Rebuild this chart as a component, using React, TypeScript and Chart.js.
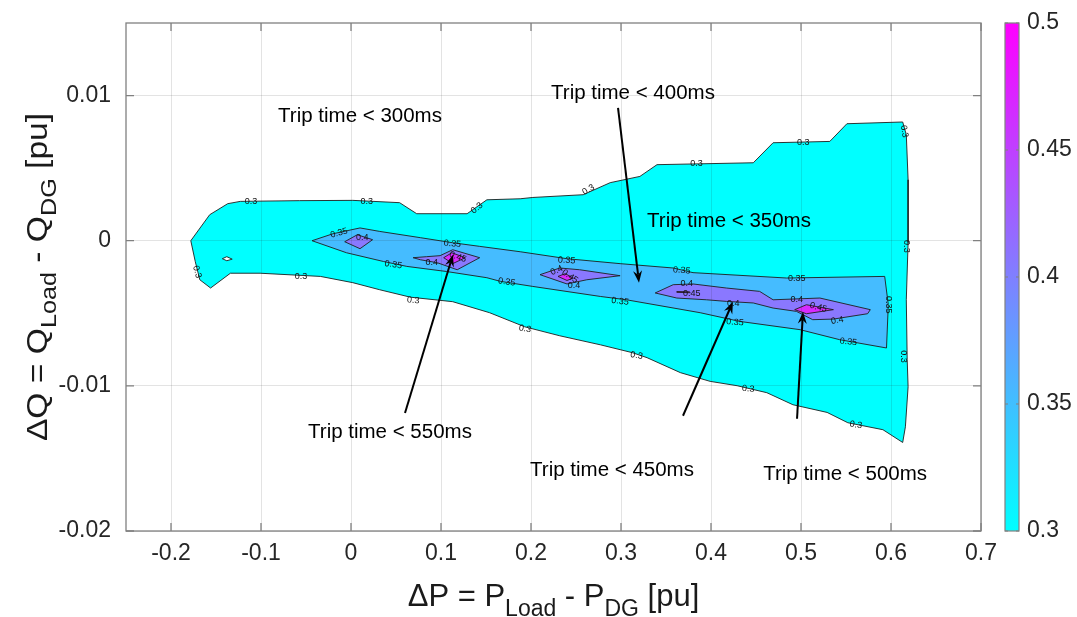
import React, { useEffect, useRef } from "react";
import { Chart, registerables } from "chart.js";

Chart.register(...registerables);

const FONT = '"Liberation Sans", Arial, Helvetica, sans-serif';

// Axis ticks
const xTicks = [-0.2, -0.1, 0, 0.1, 0.2, 0.3, 0.4, 0.5, 0.6, 0.7];
const yTicks = [-0.02, -0.01, 0, 0.01];
const levelTicks = [0.3, 0.35, 0.4, 0.45, 0.5];

// Filled contour outlines, vertices as [ΔP, ΔQ] in pu
const level30 = [
  [-0.178, 0.0], [-0.157, 0.00179], [-0.137, 0.00255], [-0.123, 0.00271],
  [-0.057, 0.00276], [0.002, 0.00278], [0.054, 0.00262], [0.073, 0.00186],
  [0.129, 0.00186], [0.151, 0.00282], [0.188, 0.00289], [0.202, 0.00298],
  [0.258, 0.00317], [0.288, 0.004], [0.321, 0.00443], [0.34, 0.00524],
  [0.447, 0.00537], [0.469, 0.00675], [0.532, 0.00684], [0.551, 0.00806],
  [0.613, 0.00818], [0.617, 0.0073], [0.619, 0.0042], [0.619, -0.00014],
  [0.617, -0.00407], [0.618, -0.0082], [0.619, -0.01006], [0.616, -0.01282],
  [0.613, -0.0139], [0.591, -0.01302], [0.552, -0.01254], [0.529, -0.01183],
  [0.491, -0.0113], [0.462, -0.01047], [0.429, -0.00999], [0.399, -0.00969],
  [0.366, -0.00909], [0.329, -0.00806], [0.313, -0.00772], [0.277, -0.00717],
  [0.232, -0.00655], [0.193, -0.00593], [0.154, -0.00496], [0.113, -0.0042],
  [0.066, -0.00389], [0.032, -0.00338], [0.002, -0.00289], [-0.034, -0.00246],
  [-0.101, -0.00224], [-0.134, -0.00224], [-0.156, -0.00326], [-0.168, -0.00269],
  [-0.173, -0.00145],
];

const level30Hole = [
  [-0.143, -0.00124], [-0.138, -0.0011], [-0.132, -0.00127], [-0.138, -0.00138],
];

const level35 = [
  [-0.0433, 0.0], [-0.02, 0.00048], [0.01, 0.00088], [0.032, 0.00064],
  [0.077, 0.00021], [0.113, -0.00014], [0.143, -0.00039], [0.188, -0.00076],
  [0.24, -0.00124], [0.299, -0.00158], [0.358, -0.00188], [0.38, -0.0022],
  [0.484, -0.00257], [0.593, -0.00246], [0.597, -0.00441], [0.595, -0.00739],
  [0.543, -0.00682], [0.499, -0.00613], [0.432, -0.00556], [0.388, -0.00496],
  [0.306, -0.00407], [0.277, -0.00384], [0.202, -0.00315], [0.166, -0.0028],
  [0.151, -0.00255], [0.106, -0.00212], [0.062, -0.00177], [0.036, -0.00143],
  [-0.005, -0.00083],
];

const level40a = [[-0.007, -0.00007], [0.007, 0.00041], [0.024, 0.00007], [0.01, -0.00055]];
const level40b = [
  [0.069, -0.00117], [0.084, -0.0011], [0.099, -0.00103], [0.113, -0.00062],
  [0.143, -0.00117], [0.118, -0.002], [0.096, -0.00152], [0.077, -0.00131],
];
const level40c = [
  [0.21, -0.00234], [0.232, -0.00188], [0.254, -0.002], [0.299, -0.00241],
  [0.262, -0.00269], [0.24, -0.00298],
];
const level40d = [
  [0.338, -0.0036], [0.358, -0.00303], [0.38, -0.00298], [0.417, -0.00326],
  [0.454, -0.00349], [0.469, -0.00407], [0.521, -0.00395], [0.577, -0.00475],
  [0.574, -0.00503], [0.536, -0.0054], [0.513, -0.00544], [0.495, -0.00487],
  [0.469, -0.00464], [0.447, -0.00429], [0.417, -0.00418], [0.395, -0.00407],
  [0.362, -0.00395],
];

const level45b = [[0.103, -0.00117], [0.112, -0.00083], [0.127, -0.00117], [0.113, -0.00158]];
const level45c = [[0.23, -0.00246], [0.238, -0.00227], [0.247, -0.00257], [0.24, -0.00274]];
const level45d = [[0.362, -0.0035], [0.376, -0.00352], [0.377, -0.00358], [0.362, -0.00356]];
const level45e = [[0.493, -0.00475], [0.506, -0.00441], [0.536, -0.00475], [0.506, -0.00503]];

// Inline contour labels: [ΔP, ΔQ, text, angle in degrees]
const contourLabels: [number, number, string, number][] = [
  [-0.111, 0.00267, "0.3", 0], [0.0174, 0.00267, "0.3", 0], [0.14, 0.00225, "0.3", -40],
  [-0.171, -0.00214, "0.3", 75], [-0.0556, -0.00246, "0.3", 0], [0.069, -0.00411, "0.3", 5],
  [0.2637, 0.00351, "0.3", -30], [0.384, 0.00531, "0.3", 0], [0.5026, 0.00677, "0.3", 0],
  [0.6148, 0.00753, "0.3", 80], [0.6174, -0.00039, "0.3", 90], [0.6144, -0.00797, "0.3", 90],
  [0.1933, -0.00607, "0.3", 10], [0.3174, -0.00791, "0.3", 8], [0.4414, -0.01021, "0.3", 5],
  [0.561, -0.01269, "0.3", 10],
  [-0.0133, 0.00053, "0.35", -15], [0.1126, -0.00021, "0.35", 5], [0.047, -0.00165, "0.35", 8],
  [0.173, -0.00285, "0.35", 8], [0.2397, -0.00136, "0.35", 3], [0.3674, -0.00205, "0.35", 5],
  [0.4952, -0.00262, "0.35", 0], [0.597, -0.00441, "0.35", 90], [0.2989, -0.00418, "0.35", 8],
  [0.4267, -0.00562, "0.35", 5], [0.5526, -0.00697, "0.35", 5],
  [0.0126, 0.00025, "0.4", 0], [0.0897, -0.0015, "0.4", 0], [0.2286, -0.00205, "0.4", -25],
  [0.2478, -0.0031, "0.4", 0], [0.373, -0.00296, "0.4", 0], [0.4248, -0.00436, "0.4", 0],
  [0.4952, -0.00402, "0.4", 0], [0.5403, -0.00549, "0.4", -10],
  [0.1186, -0.00112, "0.45", 20], [0.2433, -0.00246, "0.45", 35], [0.3786, -0.00365, "0.45", 0],
  [0.5192, -0.0046, "0.45", 15],
];

// Trip-time annotations
const noteTexts = [
  "Trip time < 300ms", "Trip time < 400ms", "Trip time < 350ms",
  "Trip time < 550ms", "Trip time < 450ms", "Trip time < 500ms",
];
const noteAt = [
  [0.01, 0.00859], [0.3133, 0.01018], [0.42, 0.00131],
  [0.0433, -0.01318], [0.29, -0.0158], [0.549, -0.01608],
];
// Arrows: [fromΔP, fromΔQ, toΔP, toΔQ]
const arrows = [
  [0.2967, 0.00916, 0.32, -0.00289],
  [0.06, -0.01187, 0.1133, -0.00096],
  [0.3689, -0.01206, 0.4244, -0.0042],
  [0.4956, -0.01227, 0.5022, -0.00489],
];

const BAND = ["#00FFFF", "#45BCFF", "#8A78FF", "#D82AFF"];

const regions = [
  { poly: level30, color: BAND[0], order: 10 },
  { poly: level30Hole, color: "#FFFFFF", order: 9 },
  { poly: level35, color: BAND[1], order: 8 },
  { poly: level40a, color: BAND[2], order: 7 },
  { poly: level40b, color: BAND[2], order: 7 },
  { poly: level40c, color: BAND[2], order: 7 },
  { poly: level40d, color: BAND[2], order: 7 },
  { poly: level45b, color: BAND[3], order: 6 },
  { poly: level45c, color: BAND[3], order: 6 },
  { poly: level45d, color: BAND[3], order: 6 },
  { poly: level45e, color: BAND[3], order: 6 },
];

const closed = (poly: number[][]) => [...poly, poly[0]].map(([x, y]) => ({ x, y }));

type Part = [string, boolean];

function drawSubscripted(ctx: CanvasRenderingContext2D, parts: Part[], cx: number, base: number, big: number, small: number, drop: number) {
  const widths = parts.map(([t, sub]) => {
    ctx.font = `${sub ? small : big}px ${FONT}`;
    return ctx.measureText(t).width;
  });
  const total = widths.reduce((a, b) => a + b, 0);
  let x = cx - total / 2;
  ctx.textAlign = "left";
  ctx.textBaseline = "alphabetic";
  parts.forEach(([t, sub], i) => {
    ctx.font = `${sub ? small : big}px ${FONT}`;
    ctx.fillText(t, x, base + (sub ? drop : 0));
    x += widths[i];
  });
}

const decorations = {
  id: "decorations",
  afterDraw(chart: any) {
    const { ctx, chartArea: a, scales } = chart;
    const X = (v: number) => scales.x.getPixelForValue(v);
    const Y = (v: number) => scales.y.getPixelForValue(v);
    ctx.save();

    // inline contour labels
    ctx.fillStyle = "#111";
    ctx.font = `9px ${FONT}`;
    ctx.textAlign = "center";
    ctx.textBaseline = "middle";
    for (const [lx, ly, t, ang] of contourLabels) {
      ctx.save();
      ctx.translate(X(lx), Y(ly));
      ctx.rotate((ang * Math.PI) / 180);
      ctx.fillText(t, 0, 0);
      ctx.restore();
    }

    // axes box and inward ticks
    ctx.strokeStyle = "#808080";
    ctx.lineWidth = 1.3;
    ctx.strokeRect(a.left, a.top, a.right - a.left, a.bottom - a.top);
    ctx.beginPath();
    for (const v of xTicks) {
      const x = X(v);
      ctx.moveTo(x, a.bottom); ctx.lineTo(x, a.bottom - 8);
      ctx.moveTo(x, a.top); ctx.lineTo(x, a.top + 8);
    }
    for (const v of yTicks) {
      const y = Y(v);
      ctx.moveTo(a.left, y); ctx.lineTo(a.left + 8, y);
      ctx.moveTo(a.right, y); ctx.lineTo(a.right - 8, y);
    }
    ctx.stroke();

    // annotation texts
    ctx.fillStyle = "#000";
    ctx.font = `20.5px ${FONT}`;
    ctx.textAlign = "center";
    ctx.textBaseline = "middle";
    noteTexts.forEach((t, i) => ctx.fillText(t, X(noteAt[i][0]), Y(noteAt[i][1])));

    // arrows
    ctx.strokeStyle = "#000";
    ctx.lineWidth = 2;
    for (const [fx, fy, tx, ty] of arrows) {
      const x1 = X(fx), y1 = Y(fy), x2 = X(tx), y2 = Y(ty);
      const ang = Math.atan2(y2 - y1, x2 - x1);
      const c = Math.cos(ang), s = Math.sin(ang);
      const L = 12, W = 4.5, N = 8;
      ctx.beginPath();
      ctx.moveTo(x1, y1);
      ctx.lineTo(x2 - N * c, y2 - N * s);
      ctx.stroke();
      ctx.beginPath();
      ctx.moveTo(x2, y2);
      ctx.lineTo(x2 - L * c + W * s, y2 - L * s - W * c);
      ctx.lineTo(x2 - N * c, y2 - N * s);
      ctx.lineTo(x2 - L * c - W * s, y2 - L * s + W * c);
      ctx.closePath();
      ctx.fill();
    }

    // axis titles
    ctx.fillStyle = "#1a1a1a";
    drawSubscripted(ctx, [["ΔP = P", false], ["Load", true], [" - P", false], ["DG", true], [" [pu]", false]],
      (a.left + a.right) / 2, a.bottom + 75, 31, 23, 10);
    ctx.save();
    ctx.translate(47, (a.top + a.bottom) / 2);
    ctx.rotate(-Math.PI / 2);
    ctx.scale(1.12, 1);
    drawSubscripted(ctx, [["ΔQ = Q", false], ["Load", true], [" - Q", false], ["DG", true], [" [pu]", false]],
      0, 0, 30, 22.5, 9);
    ctx.restore();

    // colorbar
    const bx = a.right + 24, bw = 14;
    const lo = levelTicks[0], hi = levelTicks[levelTicks.length - 1];
    const cy = (v: number) => a.bottom - ((v - lo) / (hi - lo)) * (a.bottom - a.top);
    const g = ctx.createLinearGradient(0, a.bottom, 0, a.top);
    g.addColorStop(0, "#00FFFF");
    g.addColorStop(1, "#FF00FF");
    ctx.fillStyle = g;
    ctx.fillRect(bx, a.top, bw, a.bottom - a.top);
    ctx.strokeStyle = "#808080";
    ctx.lineWidth = 1.2;
    ctx.strokeRect(bx, a.top, bw, a.bottom - a.top);
    ctx.beginPath();
    for (const v of levelTicks) {
      const y = cy(v);
      ctx.moveTo(bx, y); ctx.lineTo(bx + 3, y);
      ctx.moveTo(bx + bw, y); ctx.lineTo(bx + bw - 3, y);
    }
    ctx.stroke();
    ctx.fillStyle = "#262626";
    ctx.font = `23px ${FONT}`;
    ctx.textAlign = "left";
    ctx.textBaseline = "middle";
    for (const v of levelTicks) ctx.fillText(String(v), bx + bw + 8, cy(v));

    ctx.restore();
  },
};

export default function App() {
  const ref = useRef<HTMLCanvasElement>(null);

  useEffect(() => {
    if (!ref.current) return;
    const tickFont = { family: FONT, size: 23 };
    const chart = new Chart(ref.current, {
      type: "scatter",
      data: {
        datasets: regions.map((r) => ({
          data: closed(r.poly),
          showLine: true,
          fill: "shape",
          backgroundColor: r.color,
          borderColor: "#1e1e1e",
          borderWidth: 0.9,
          pointRadius: 0,
          pointHoverRadius: 0,
          tension: 0,
          order: r.order,
        })),
      },
      options: {
        responsive: false,
        animation: false,
        devicePixelRatio: 1,
        events: [],
        layout: { padding: { top: 23, right: 96, bottom: 0, left: 0 } },
        plugins: { legend: { display: false }, tooltip: { enabled: false } },
        scales: {
          x: {
            type: "linear",
            min: -0.25,
            max: 0.7,
            afterBuildTicks: (s: any) => { s.ticks = xTicks.map((value) => ({ value })); },
            afterFit: (s: any) => { s.height = 86; s.paddingLeft = 0; s.paddingRight = 0; },
            grid: { color: "rgba(40,40,40,0.13)", drawTicks: false, z: 1 },
            border: { display: false },
            ticks: { font: tickFont, color: "#262626", padding: 9, maxRotation: 0, autoSkip: false,
              callback: (v: any) => String(v) },
          },
          y: {
            type: "linear",
            min: -0.02,
            max: 0.015,
            afterBuildTicks: (s: any) => { s.ticks = yTicks.map((value) => ({ value })); },
            afterFit: (s: any) => { s.width = 126; s.paddingTop = 0; s.paddingBottom = 0; },
            grid: { color: "rgba(40,40,40,0.13)", drawTicks: false, z: 1 },
            border: { display: false },
            ticks: { font: tickFont, color: "#262626", padding: 15, autoSkip: false,
              callback: (v: any) => String(v) },
          },
        },
      },
      plugins: [decorations],
    } as any);
    return () => chart.destroy();
  }, []);

  return (
    <div style={{ position: "absolute", left: 0, top: 0, width: 1077, height: 617, background: "#fff" }}>
      <canvas ref={ref} width={1077} height={617} style={{ width: 1077, height: 617, display: "block" }} />
    </div>
  );
}
